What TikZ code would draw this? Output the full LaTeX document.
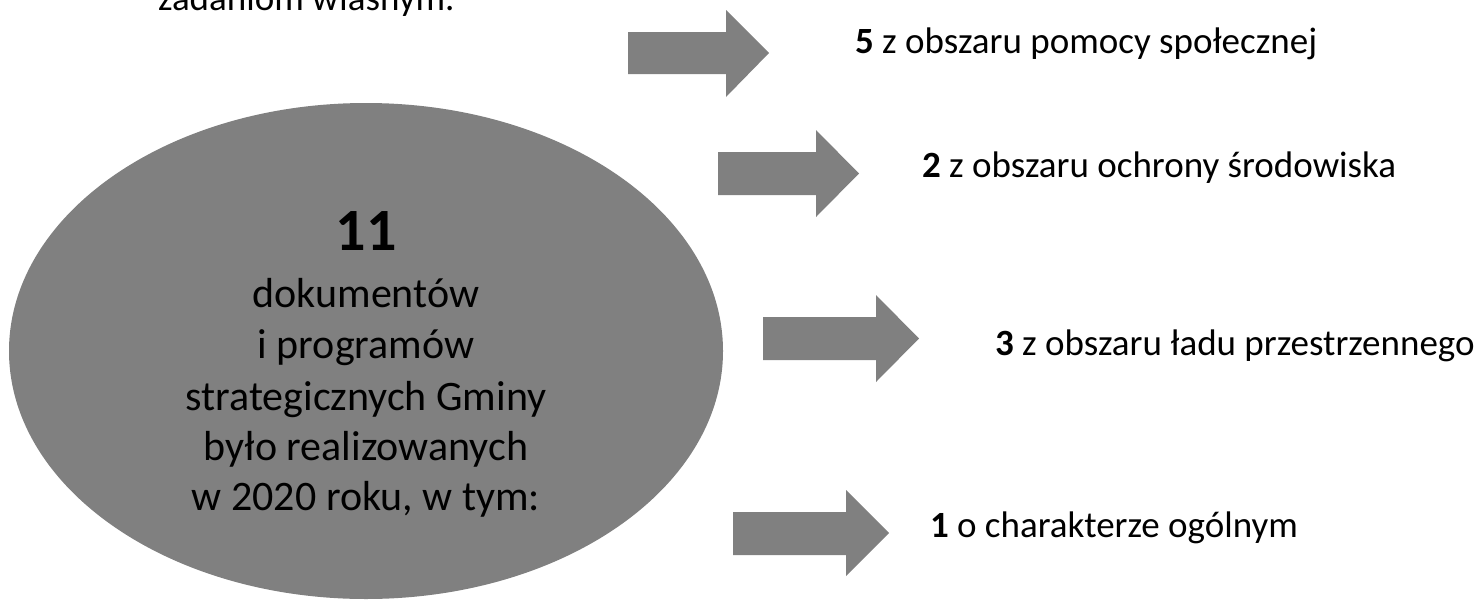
\documentclass[tikz,border=0pt]{standalone}
\usepackage{fontspec}
\setmainfont{Carlito}
\usetikzlibrary{shapes.geometric}
\definecolor{shapegray}{HTML}{808080}
\begin{document}
\begin{tikzpicture}[x=1pt,y=-1pt,
  every node/.style={inner sep=0pt,outer sep=0pt},
  ovaltxt/.style={font=\fontsize{42}{51}\selectfont, anchor=base},
  sidetxt/.style={font=\fontsize{37}{45}\selectfont, anchor=base west},
  blockarrow/.style={fill=shapegray}]
\useasboundingbox (0,0) rectangle (1484,600);
\node[ellipse, fill=shapegray, minimum width=714pt, minimum height=496pt] (oval) at (366,351) {};
% block arrows
\fill[blockarrow] (628,32) -- (726,32) -- (726,10) -- (769,53) -- (726,97) -- (726,74) -- (628,74) -- cycle;
\fill[blockarrow] (718,152) -- (816,152) -- (816,130) -- (859,173.5) -- (816,217) -- (816,195) -- (718,195) -- cycle;
\fill[blockarrow] (763,317) -- (876,317) -- (876,295) -- (919,338.5) -- (876,382) -- (876,360) -- (763,360) -- cycle;
\fill[blockarrow] (733,512) -- (846,512) -- (846,490) -- (889,533) -- (846,576) -- (846,555) -- (733,555) -- cycle;
% oval text
\node[anchor=base, font=\fontsize{60}{60}\selectfont\bfseries] (num) at (366,250) {11};
\node[ovaltxt] (l1) at (366,307) {dokumentów};
\node[ovaltxt] (l2) at (366,358) {i programów};
\node[ovaltxt] (l3) at (366,410) {strategicznych Gminy};
\node[ovaltxt] (l4) at (366,460) {było realizowanych};
\node[ovaltxt] (l5) at (366,510) {w 2020 roku, w tym:};
% side texts
\node[sidetxt] (top) at (158,10) {zadaniom własnym.};
\node[sidetxt] (t5) at (855,53) {\textbf{5} z obszaru pomocy społecznej};
\node[sidetxt] (t2) at (922,177) {\textbf{2} z obszaru ochrony środowiska};
\node[sidetxt] (t3) at (995,355) {\textbf{3} z obszaru ładu przestrzennego};
\node[sidetxt] (t1) at (930,537) {\textbf{1} o charakterze ogólnym};
\end{tikzpicture}
\end{document}
